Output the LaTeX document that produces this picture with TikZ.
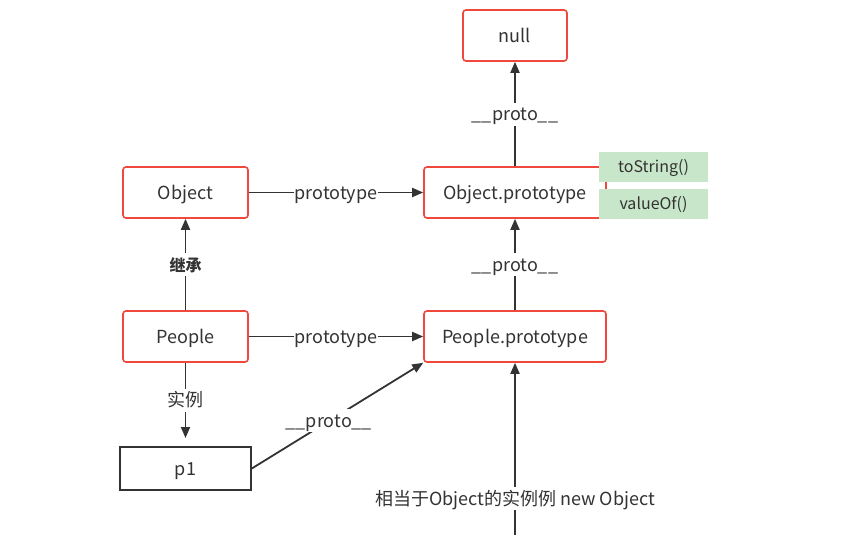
\documentclass[tikz,border=0pt]{standalone}
\usepackage{fontspec}
\setmainfont{Noto Sans CJK SC}
\usetikzlibrary{arrows.meta}
\definecolor{bred}{RGB}{240,72,60}
\definecolor{gfill}{RGB}{200,230,201}
\definecolor{txt}{RGB}{51,51,51}
\begin{document}
\begin{tikzpicture}[x=1pt,y=-1pt,
  redbox/.style={draw=bred,line width=1.6pt,rounded corners=3pt,fill=white,minimum height=51pt,font=\fontsize{18}{20}\selectfont,text=txt,inner sep=0pt,text height=13pt,text depth=0pt},
  blackbox/.style={draw=txt,line width=1.6pt,fill=white,minimum width=131pt,minimum height=43pt,font=\fontsize{18}{20}\selectfont,text=txt,inner sep=0pt,text height=13pt,text depth=0pt},
  greenbox/.style={fill=gfill,minimum width=109pt,minimum height=30pt,font=\fontsize{16}{18}\selectfont,text=txt,inner sep=0pt,text height=11.5pt,text depth=0pt},
  conn/.style={draw=txt,line width=1.8pt,-{Triangle[length=11pt,width=9pt]}},
  lbl/.style={fill=white,text=txt,font=\fontsize{18}{20}\selectfont,inner xsep=1pt,inner ysep=5pt,text height=13pt,text depth=0pt}
]
\useasboundingbox (0,0) rectangle (861,555);
\node[redbox,minimum width=104pt] (null) at (515,35.5) {null};
\node[redbox,minimum width=125pt] (obj) at (185.5,192.5) {Object};
\node[redbox,minimum width=182pt] (objp) at (515,192.5) {Object.prototype};
\node[redbox,minimum width=125pt] (ppl) at (185.5,336.5) {People};
\node[redbox,minimum width=182pt] (pplp) at (515,336.5) {People.prototype};
\node[blackbox] (p1) at (185.5,468.5) {p1};
\node[greenbox] (ts) at (653.5,167) {toString()};
\node[greenbox] (vo) at (653.5,203.5) {valueOf()};
\coordinate (p1top) at (185.5,438);
\coordinate (bot) at (515,535);

\draw[conn] (obj) -- node[lbl]{prototype} (objp);
\draw[conn] (ppl) -- node[lbl]{prototype} (pplp);
\draw[conn] (objp) -- node[lbl]{\_\_proto\_\_} (null);
\draw[conn] (pplp) -- node[lbl]{\_\_proto\_\_} (objp);
\draw[conn] (ppl) -- node[lbl,font=\fontsize{16}{18}\selectfont\bfseries]{继承} (obj);
\draw[conn] (ppl) -- node[lbl,pos=0.5]{实例} (p1top);
\draw[conn] (p1.east) -- node[lbl,pos=0.45]{\_\_proto\_\_} (pplp.south west);
\draw[conn] (bot) -- node[lbl,pos=0.21]{相当于Object的实例例 new Object} (pplp);
\end{tikzpicture}
\end{document}
